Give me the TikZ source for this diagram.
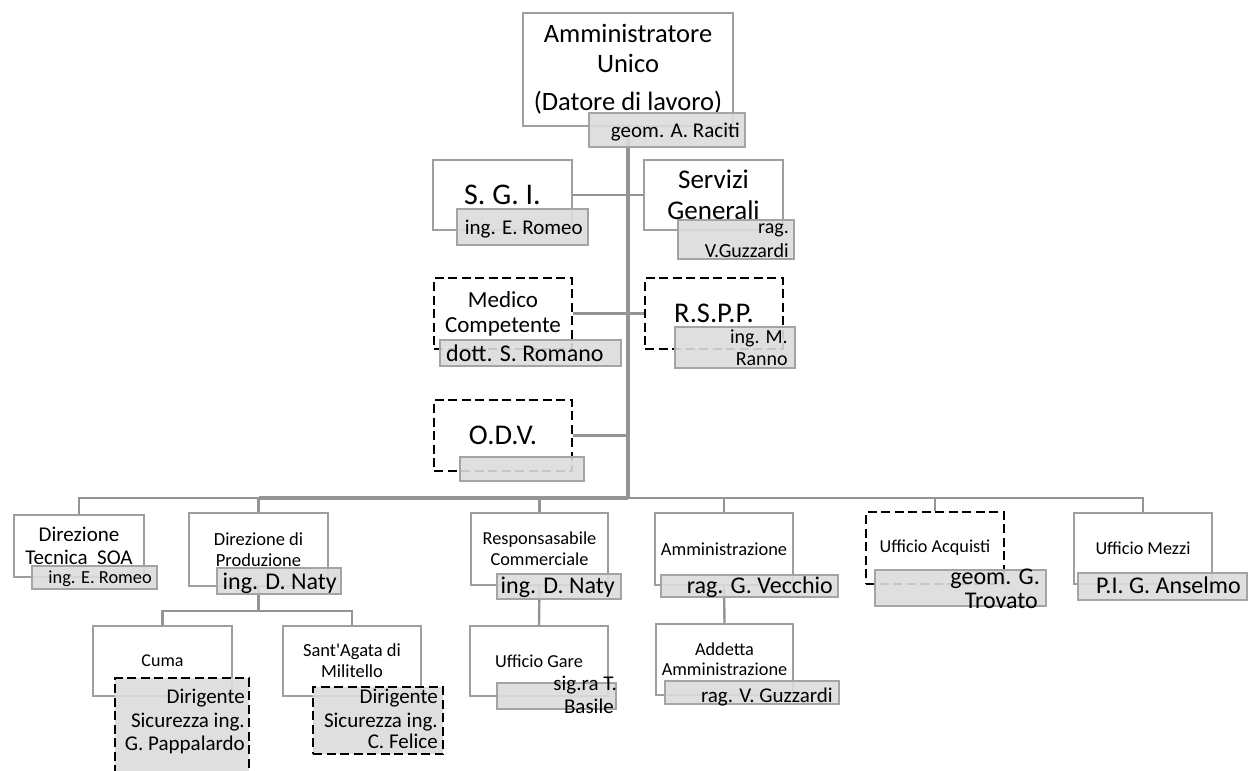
\documentclass[tikz,border=0pt]{standalone}
\usepackage{fontspec}
\setmainfont{Carlito}
\usetikzlibrary{backgrounds}
\definecolor{bline}{RGB}{158,158,158}
\definecolor{nfill}{RGB}{220,220,220}
\definecolor{nline}{RGB}{164,164,164}
\definecolor{cline}{RGB}{148,148,148}
\newcommand{\fs}[2]{\fontsize{#1}{#2}\selectfont}
\begin{document}
\begin{tikzpicture}[x=1pt,y=-1pt,
  sz/.style 2 args={minimum width=#1pt,minimum height=#2pt},
  box/.style={draw=bline,line width=2.4pt,fill=white,inner sep=0pt,align=center},
  dbox/.style={draw=black,line width=2.6pt,dash pattern=on 9pt off 4.5pt,fill=white,inner sep=0pt,align=center},
  nbox/.style={draw=nline,line width=2.4pt,fill=nfill,fill opacity=0.9,draw opacity=1,inner sep=0pt},
  ndbox/.style={nbox,draw=black,line width=2.6pt,dash pattern=on 9pt off 4.5pt},
  ntext/.style={inner sep=0pt,anchor=base east},
  conn/.style={draw=cline,line width=2.4pt},
]
\useasboundingbox (0,0) rectangle (1248,771);

% ---- main boxes
\node[box,sz={210}{113},font=\fs{26.5}{30}] (top) at (628,69.5) {Amministratore\\Unico\\[8pt](Datore di lavoro)};
\node[box,sz={139}{70},font=\fs{30}{36}] (sgi) at (502.5,195) {S. G. I.};
\node[box,sz={139}{70},font=\fs{27}{31}] (serv) at (713.5,195) {Servizi\\Generali};
\node[dbox,sz={138}{71},font=\fs{23}{25}] (medico) at (503,313.5) {Medico\\Competente};
\node[dbox,sz={138}{71},font=\fs{28.5}{34}] (rspp) at (714,313.5) {R.S.P.P.};
\node[dbox,sz={138}{71},font=\fs{28.5}{34}] (odv) at (503,435.5) {O.D.V.};
\node[box,sz={130}{62},font=\fs{21}{23}] (dtec) at (79,546) {Direzione\\Tecnica\ \ SOA};
\node[box,sz={139}{73},font=\fs{18.5}{20.5}] (dprod) at (258.5,549.5) {Direzione di\\Produzione};
\node[box,sz={137}{72},font=\fs{18.3}{21}] (resp) at (539.5,549) {Responsasabile\\Commerciale};
\node[box,sz={138}{72},font=\fs{18.4}{22}] (amm) at (724,549) {Amministrazione};
\node[dbox,sz={138}{72},font=\fs{18.2}{22}] (acq) at (935,548) {Ufficio Acquisti};
\node[box,sz={138}{71},font=\fs{18.2}{22}] (mezzi) at (1143,548.5) {Ufficio Mezzi};
\node[box,sz={139}{70},font=\fs{18}{22}] (cuma) at (162.5,661) {Cuma};
\node[box,sz={138}{70},font=\fs{18.5}{21}] (sant) at (352,661) {Sant\textquotesingle Agata di\\Militello};
\node[box,sz={138}{70},font=\fs{18.3}{22}] (gare) at (539,661) {Ufficio Gare};
\node[box,sz={137}{71},font=\fs{18.3}{20}] (addetta) at (724.5,659.5) {Addetta\\Amministrazione};

% ---- name boxes
\node[nbox,sz={156}{34}] (raciti) at (667,130) {};
\node[ntext,font=\fs{21}{25}] (raciti-t) at (740,137) {geom. A. Raciti};
\node[nbox,sz={131}{36}] (sgiR) at (522.5,227) {};
\node[ntext,font=\fs{21}{25}] (sgiR-t) at (583,234) {ing. E. Romeo};
\node[nbox,sz={116}{39}] (servR) at (736,239.5) {};
\node[ntext,font=\fs{20}{22}] (servR-t1) at (789,233) {rag.};
\node[ntext,font=\fs{20}{22}] (servR-t2) at (789,257) {V.Guzzardi};
\node[nbox,sz={181}{26}] (medR) at (530.5,353) {};
\node[inner sep=0pt,anchor=base west,font=\fs{24}{28}] (medR-t) at (446,361) {dott. S. Romano};
\node[nbox,sz={120}{41}] (rsppR) at (735,347.5) {};
\node[ntext,font=\fs{20}{22}] (rsppR-t1) at (788,343) {ing. M.};
\node[ntext,font=\fs{20}{22}] (rsppR-t2) at (788,365) {Ranno};
\node[nbox,sz={124}{24}] (odvR) at (522,469) {};
\node[nbox,sz={125}{23}] (dtecR) at (94.5,577.5) {};
\node[ntext,font=\fs{18.4}{22}] (dtecR-t) at (152,583) {ing. E. Romeo};
\node[nbox,sz={124}{26}] (dprodR) at (279,581) {};
\node[ntext,font=\fs{24}{28}] (dprodR-t) at (337,589) {ing. D. Naty};
\node[nbox,sz={124}{25}] (respR) at (559,586.5) {};
\node[ntext,font=\fs{24}{28}] (respR-t) at (615,593) {ing. D. Naty};
\node[nbox,sz={177}{22}] (ammR) at (749.5,586) {};
\node[ntext,font=\fs{24}{28}] (ammR-t) at (833,593) {rag. G. Vecchio};
\node[nbox,sz={171}{36}] (acqR) at (960.5,588) {};
\node[ntext,font=\fs{24}{28}] (acqR-t1) at (1040,584) {geom. G.};
\node[ntext,font=\fs{24}{28}] (acqR-t2) at (1038,608) {Trovato};
\node[nbox,sz={169}{27}] (mezziR) at (1162.5,586.5) {};
\node[ntext,font=\fs{24}{28}] (mezziR-t) at (1241,593) {P.I. G. Anselmo};
\node[ndbox,sz={134}{104}] (cumaD) at (182,730) {};
\node[ntext,font=\fs{21}{23}] (cumaD-t1) at (245,703) {Dirigente};
\node[ntext,font=\fs{21}{23}] (cumaD-t2) at (245,727) {Sicurezza ing.};
\node[ntext,font=\fs{21}{23}] (cumaD-t3) at (245,750) {G. Pappalardo};
\node[ndbox,sz={130}{67}] (santD) at (378,720.5) {};
\node[ntext,font=\fs{21}{23}] (santD-t1) at (438,703) {Dirigente};
\node[ntext,font=\fs{21}{23}] (santD-t2) at (438,727) {Sicurezza ing.};
\node[ntext,font=\fs{21}{23}] (santD-t3) at (438,748) {C. Felice};
\node[nbox,sz={119}{26}] (gareR) at (556.5,696) {};
\node[ntext,font=\fs{21}{23}] (gareR-t1) at (617,690) {sig.ra T.};
\node[ntext,font=\fs{21}{23}] (gareR-t2) at (614,713) {Basile};
\node[nbox,sz={174}{23}] (addR) at (752,692.5) {};
\node[ntext,font=\fs{21}{23}] (addR-t) at (833,702) {rag. V. Guzzardi};

% ---- connectors
\begin{scope}[on background layer]
\coordinate (hub) at (628,498);
\draw[conn,line width=3.4pt] (top.south) -- (hub);
\draw[conn] (sgi.east) -- (serv.west);
\draw[conn] (medico.east) -- (rspp.west);
\draw[conn] (odv.east) -- (odv.east -| hub);
\draw[conn] (dtec.north) |- (hub);
\draw[conn] (mezzi.north) |- (hub);
\draw[conn,line width=3.8pt] (dprod.north |- hub) -- (hub);
\draw[conn] (dprod.north) -- (dprod.north |- hub);
\draw[conn] (resp.north) -- (resp.north |- hub);
\draw[conn] (amm.north) -- (amm.north |- hub);
\draw[conn] (acq.north) -- (acq.north |- hub);
\draw[conn] (dprod.south) -- ++(0,24) coordinate (split);
\draw[conn] (cuma.north) |- (split) -| (sant.north);
\draw[conn] (resp.south) -- (gare.north);
\draw[conn] (amm.south) -- (addetta.north);
\end{scope}
\end{tikzpicture}
\end{document}
